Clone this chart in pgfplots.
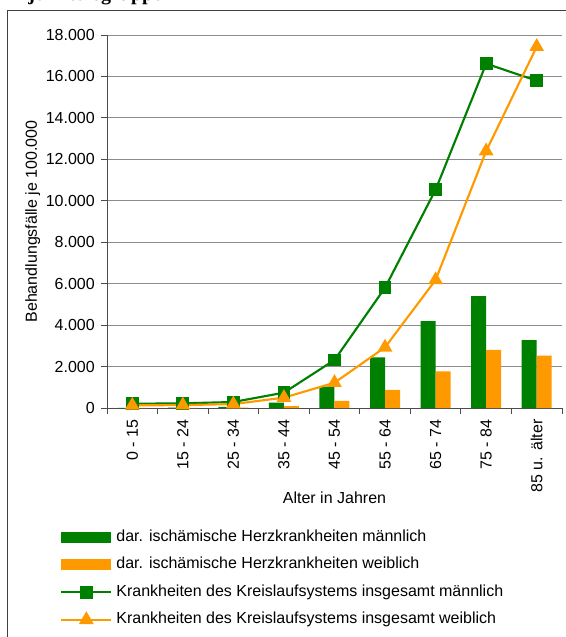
\documentclass[border=0pt]{standalone}
\usepackage{pgfplots}
\pgfplotsset{compat=1.18}
\usepackage{fontspec}
\setmainfont{Liberation Sans}
\newfontfamily\titlefont{Liberation Serif}

\definecolor{mgreen}{RGB}{0,128,0}
\definecolor{morange}{RGB}{255,153,0}

\begin{document}
\begin{tikzpicture}
% page = 566 x 637 px, 1 px = 0.75pt, axis origin at px (107,408)
\useasboundingbox (-80.25pt,-171.75pt) rectangle (344.25pt,306pt);
\draw[black!75, line width=0.75pt] (-74.25pt,-200pt) rectangle (360pt,298.5pt);
% title mostly above the page edge, as in the reference
\node[anchor=base west, inner sep=0pt, font=\titlefont\bfseries\fontsize{15}{18}\selectfont]
  at (-59.25pt,305.5pt) {je Altersgruppe};

\begin{axis}[
    scale only axis,
    width=341.25pt, height=279.75pt,
    font=\fontsize{12}{14}\selectfont,
    xmin=-0.5, xmax=8.5,
    ymin=0, ymax=18000,
    scaled y ticks=false,
    clip=false,
    axis x line*=bottom,
    axis y line*=left,
    axis line style={black!70, line width=0.6pt},
    tick align=outside,
    tick style={black!70, line width=0.6pt},
    major tick length=4.5pt,
    minor tick length=4.5pt,
    xtick={0,1,2,3,4,5,6,7,8},
    xticklabels={0 - 15,15 - 24,25 - 34,35 - 44,45 - 54,55 - 64,65 - 74,75 - 84,85 u. älter},
    minor xtick={-0.5,0.5,1.5,2.5,3.5,4.5,5.5,6.5,7.5,8.5},
    major x tick style={draw=none},
    xticklabel style={rotate=90, anchor=east, inner sep=0pt},
    xticklabel shift=4pt,
    ytick={0,2000,4000,6000,8000,10000,12000,14000,16000,18000},
    yticklabels={0,2.000,4.000,6.000,8.000,10.000,12.000,14.000,16.000,18.000},
    yticklabel style={anchor=east, inner sep=0pt},
    yticklabel shift=4.5pt,
    ymajorgrids=true,
    grid style={black!45, line width=0.6pt},
    xlabel={Alter in Jahren},
    xlabel style={at={(axis description cs:0.5,-0.225)}, anchor=north, inner sep=0pt},
    ylabel={Behandlungsfälle je 100.000},
    ylabel style={at={(axis description cs:-0.163,0.5)}, anchor=center, inner sep=0pt},
    legend style={
        at={(axis description cs:-0.1033,-0.326)}, anchor=north west,
        draw=none, fill=none, inner sep=0pt,
        row sep=9.4pt, column sep=3pt,
        nodes={inner sep=0pt, text height=8.6pt, text depth=2.6pt},
        font=\fontsize{12}{14}\selectfont,
    },
    legend cell align=left,
]

\addplot[ybar, bar width=11.25pt, bar shift=-5.625pt, fill=mgreen, draw=none,
    legend image code/.code={\fill[mgreen] (0pt,-4pt) rectangle (37.5pt,4pt);}]
    coordinates {(0,5)(1,15)(2,50)(3,256)(4,1030)(5,2446)(6,4198)(7,5405)(8,3281)};

\addplot[ybar, bar width=11.25pt, bar shift=5.625pt, fill=morange, draw=none,
    legend image code/.code={\fill[morange] (0pt,-4pt) rectangle (37.5pt,4pt);}]
    coordinates {(0,2)(1,5)(2,15)(3,90)(4,340)(5,870)(6,1770)(7,2800)(8,2525)};

\addplot[color=mgreen, line width=1.6pt, mark=square*, mark size=4pt,
    mark options={solid, fill=mgreen},
    legend image code/.code={\draw[mark repeat=2, mark phase=2]
        plot coordinates {(0pt,0pt) (18.75pt,0pt) (37.5pt,0pt)};}]
    coordinates {(0,205)(1,225)(2,290)(3,740)(4,2316)(5,5805)(6,10535)(7,16615)(8,15795)};

\addplot[color=morange, line width=1.6pt, mark=triangle*, mark size=4.8pt,
    mark options={solid, fill=morange},
    legend image code/.code={\draw[mark repeat=2, mark phase=2]
        plot coordinates {(0pt,0pt) (18.75pt,0pt) (37.5pt,0pt)};}]
    coordinates {(0,130)(1,140)(2,190)(3,500)(4,1220)(5,2930)(6,6180)(7,12400)(8,17435)};

\legend{
  dar. ischämische Herzkrankheiten männlich,
  dar. ischämische Herzkrankheiten weiblich,
  Krankheiten des Kreislaufsystems insgesamt männlich,
  Krankheiten des Kreislaufsystems insgesamt weiblich
}
\end{axis}
\end{tikzpicture}
\end{document}
